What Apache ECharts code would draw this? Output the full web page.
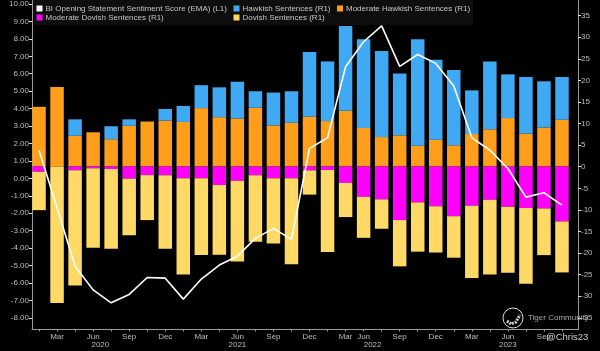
<!DOCTYPE html>
<html>
<head>
<meta charset="utf-8">
<script src="https://cdn.jsdelivr.net/npm/echarts@6/dist/echarts.min.js"></script>
<style>html,body{margin:0;padding:0;background:#000}#main{width:600px;height:351px}</style>
</head>
<body>
<div id="main"></div>
<script>
var months = ['Feb','Mar','May','Jun','Jul','Sep','Nov','Dec','Jan','Mar','Apr','Jun','Jul','Sep','Oct','Dec','Jan','Mar','Jun','Jul','Sep','Nov','Dec','Feb','Mar','May','Jun','Jul','Sep','Nov'];
var monthTicks = [1,3,5,7,9,11,13,15,17,18,20,22,24,26,28];
var minorTicks = [0,1,2,3,4,5,6,7,8,9,10,11,12,13,14,15,16,17,18,19,20,21,22,23,24,25,26,27,28,29];
var yearNames = ['2020','2021','2022','2023'];
var yearCentres = [3.4,11,18.5,26];
var yearBreaks = [7,15,22];
var leftTicks = [-8,-7,-6,-5,-4,-3,-2,-1,0,1,2,3,4,5,6,7,8,9,10];
var rightTicks = [-35,-30,-25,-20,-15,-10,-5,0,5,10,15,20,25,30,35];

var sentiment = [1.6,-1.7,-5.05,-6.4,-7.14,-6.66,-5.69,-5.73,-6.93,-5.78,-4.98,-4.47,-3.45,-2.88,-3.51,1.7,2.31,6.38,7.81,8.72,6.4,7.08,6.57,5.27,2.31,1.6,0.55,-1.09,-0.84,-1.55];
var modHawkish = [13.8,18.4,7.1,7.9,6.3,9.4,10.4,10.6,10.3,13.5,11.4,11.1,13.6,9.5,10.1,11.5,10.5,12.9,8.9,6.8,7.2,4.8,6.2,4.9,7.5,8.6,11.2,7.6,9.0,10.8];
var hawkish = [0,0,3.8,0,3.0,1.5,0,2.7,3.7,5.3,6.9,8.5,3.8,7.6,7.3,15.0,13.8,19.6,20.5,19.9,14.3,24.6,18.5,17.4,10.1,15.7,10.1,13.1,10.7,9.9];
var modDovish = [-1.2,0,-0.9,-0.4,-0.6,-2.8,-2.0,-2.0,-2.7,-2.7,-4.3,-3.3,-2.0,-2.7,-2.7,-0.9,-0.8,-3.8,-7.0,-7.6,-12.4,-8.3,-9.2,-11.5,-9.1,-7.7,-9.3,-9.6,-9.7,-12.7];
var dovish = [-8.9,-31.6,-26.6,-18.4,-18.4,-13.1,-10.4,-17.0,-22.3,-17.8,-16.1,-18.7,-15.4,-15.1,-19.9,-5.6,-19.0,-7.9,-9.5,-6.8,-10.7,-11.4,-10.7,-9.6,-16.7,-17.3,-15.3,-17.5,-10.8,-11.8];

var leftRange = { min: -8.67, max: 10.2 };
var rightRange = { min: -37.7, max: 38.5 };

var colors = {
    'BI Opening Statement Sentiment Score (EMA) (L1)': '#ffffff',
    'Hawkish Sentences (R1)': '#40A9F3',
    'Moderate Hawkish Sentences (R1)': '#FF9E1B',
    'Moderate Dovish Sentences (R1)': '#FF00FF',
    'Dovish Sentences (R1)': '#FFD966'
};

function barSeries(name, values) {
    return {
        name: name, type: 'bar', stack: 'r1', xAxisIndex: 2, yAxisIndex: 3,
        data: values, barWidth: 13.5,
        itemStyle: { color: colors[name] }, emphasis: { disabled: true }
    };
}
// a small rect with a thick border of the same colour keeps the swatch close to its text
function legendBlock(left, names) {
    return {
        left: left, top: 4, orient: 'vertical',
        data: names.map(function (n) {
            return { name: n, itemStyle: { color: colors[n], borderColor: colors[n], borderWidth: 4 } };
        }),
        itemWidth: 2, itemHeight: 2, itemGap: 0, padding: 0, icon: 'rect',
        textStyle: { color: '#c4c4c4', fontSize: 8, lineHeight: 9, fontFamily: 'Liberation Sans' }
    };
}

var axisColor = '#9a9a9a';
var labelStyle = { color: '#bcbcbc', fontSize: 8, fontFamily: 'Liberation Sans' };

var chart = echarts.init(document.getElementById('main'));
chart.setOption({
    backgroundColor: '#000',
    animation: false,
    // grid 0 draws the frame and the tick labels, grid 1 holds the marks on an evenly spaced band
    grid: [
        { left: 32, right: 22, top: 0, bottom: 21.5 },
        { left: 30, width: 541, top: 0, bottom: 21.5 }
    ],
    legend: [
        legendBlock(36.5, ['BI Opening Statement Sentiment Score (EMA) (L1)', 'Moderate Dovish Sentences (R1)']),
        legendBlock(233.5, ['Hawkish Sentences (R1)', 'Dovish Sentences (R1)']),
        legendBlock(337, ['Moderate Hawkish Sentences (R1)'])
    ],
    xAxis: [{
        type: 'value', gridIndex: 0, min: -0.39, max: 29.89, position: 'bottom',
        splitLine: { show: false },
        axisLine: { onZero: false, lineStyle: { color: axisColor } },
        axisTick: { length: 2, lineStyle: { color: axisColor }, customValues: minorTicks },
        axisLabel: Object.assign({}, labelStyle, {
            margin: 3, customValues: monthTicks, hideOverlap: false,
            formatter: function (v) { return months[v]; }
        })
    }, {
        type: 'value', gridIndex: 0, min: -0.39, max: 29.89, position: 'bottom', offset: 10,
        splitLine: { show: false }, axisLine: { show: false },
        axisTick: { show: true, length: 8, lineStyle: { color: '#666' }, customValues: yearBreaks },
        axisLabel: Object.assign({}, labelStyle, {
            margin: 1, customValues: yearCentres, hideOverlap: false,
            formatter: function (v) { return yearNames[yearCentres.indexOf(v)]; }
        })
    }, {
        type: 'category', gridIndex: 1, data: months, show: false
    }],
    yAxis: [{
        type: 'value', gridIndex: 0, min: leftRange.min, max: leftRange.max, position: 'left',
        splitLine: { show: false },
        axisLine: { show: true, onZero: false, lineStyle: { color: axisColor } },
        axisTick: { show: true, length: 3, lineStyle: { color: '#ddd' }, customValues: leftTicks },
        axisLabel: Object.assign({}, labelStyle, {
            margin: 3, customValues: leftTicks,
            formatter: function (v) { return v.toFixed(2); }
        })
    }, {
        type: 'value', gridIndex: 0, min: rightRange.min, max: rightRange.max, position: 'right',
        splitLine: { show: false },
        axisLine: { show: true, onZero: false, lineStyle: { color: axisColor } },
        axisTick: { show: true, length: 3, lineStyle: { color: '#ddd' }, customValues: rightTicks },
        axisLabel: Object.assign({}, labelStyle, { margin: 3, customValues: rightTicks })
    }, {
        type: 'value', gridIndex: 1, min: leftRange.min, max: leftRange.max, show: false
    }, {
        type: 'value', gridIndex: 1, min: rightRange.min, max: rightRange.max, show: false
    }],
    series: [
        barSeries('Moderate Hawkish Sentences (R1)', modHawkish),
        barSeries('Hawkish Sentences (R1)', hawkish),
        barSeries('Moderate Dovish Sentences (R1)', modDovish),
        barSeries('Dovish Sentences (R1)', dovish),
        {
            name: 'BI Opening Statement Sentiment Score (EMA) (L1)', type: 'line',
            xAxisIndex: 2, yAxisIndex: 2, data: sentiment, z: 5,
            showSymbol: false, lineStyle: { color: '#fff', width: 1.6 }, itemStyle: { color: '#fff' }
        }
    ],
    graphic: [
        { type: 'rect', shape: { x: 33, y: 0, width: 440, height: 25 }, style: { fill: '#0e0e0e' }, z: -1, silent: true },
        { type: 'circle', shape: { cx: 513, cy: 318, r: 10 }, style: { fill: 'none', stroke: '#ddd', lineWidth: 1 }, z: 10 },
        { type: 'polyline', shape: { points: [[507, 321], [511, 324], [516, 322], [520, 315]] }, style: { fill: 'none', stroke: '#ccc', lineWidth: 3, lineDash: [2, 1] }, z: 10 },
        { type: 'text', left: 528, top: 314, z: 10, style: { text: 'Tiger Community', fill: '#aaa', fontSize: 8, fontFamily: 'Liberation Sans' } },
        { type: 'text', left: 546, top: 332, z: 10, style: { text: '@Chris23', fill: '#ccc', fontSize: 9.5, fontFamily: 'Liberation Sans' } }
    ]
});
</script>
</body>
</html>
